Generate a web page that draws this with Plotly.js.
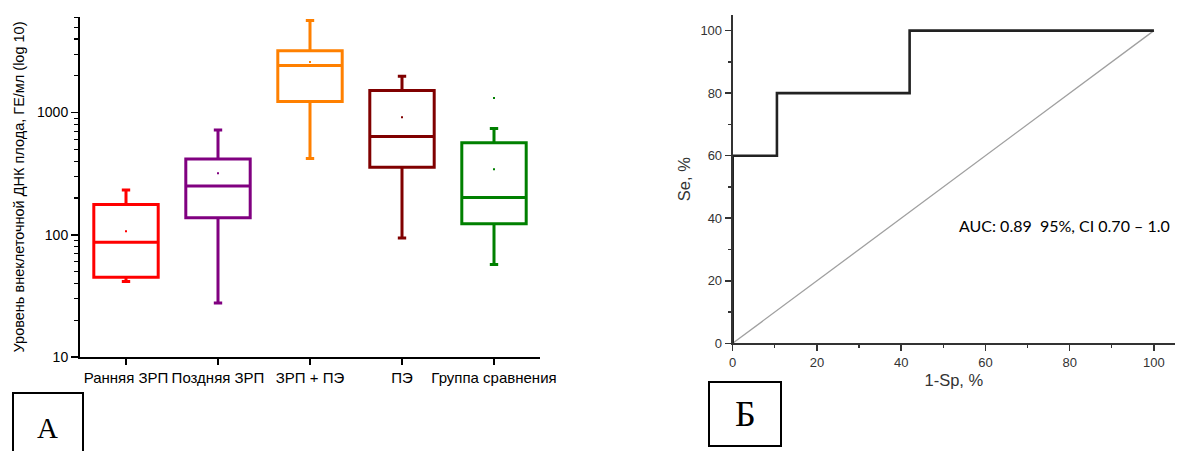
<!DOCTYPE html>
<html>
<head>
<meta charset="utf-8">
<script src="https://cdn.plot.ly/plotly-3.0.1.min.js"></script>
<style>html,body{margin:0;padding:0;background:#fff;}#chart{width:1181px;height:451px;}</style>
</head>
<body>
<div id="chart"></div>
<script>
// ---- Data: panel A (box plots, log scale) ----
const categories = ['Ранняя ЗРП', 'Поздняя ЗРП', 'ЗРП + ПЭ', 'ПЭ', 'Группа сравнения'];
const lowerWhisker = [41.5, 27.7, 420, 94, 57];
const q1Values = [45, 138, 1231, 357, 123];
const medianValues = [87, 251, 2428, 636, 202];
const q3Values = [177, 417, 3206, 1514, 567];
const upperWhisker = [232, 721, 5680, 1987, 740];
const meanValues = [107, 319, 2590, 917, 343];
const boxColors = ['#ff0000', '#800080', '#ff8000', '#800000', '#008000'];
const extraPointCategory = ['Группа сравнения'];
const extraPointValue = [1313];
const yTickVals = [10, 100, 1000];
const yTickText = ['10', '100', '1000'];

// ---- Data: panel Б (ROC curve) ----
const rocX = [0, 0, 10.5, 10.5, 42, 42, 100];
const rocY = [0, 60, 60, 80, 80, 100, 100];
const diagX = [0, 100];
const diagY = [0, 100];
const aucText = 'AUC: 0.89  95%, CI 0.70 – 1.0';

const W = 1181, H = 451;
const px = v => v / W;
const py = v => (H - v) / H;

const traces = [];
categories.forEach((c, i) => {
  traces.push({
    type: 'box', x: [c], q1: [q1Values[i]], median: [medianValues[i]], q3: [q3Values[i]],
    lowerfence: [lowerWhisker[i]], upperfence: [upperWhisker[i]],
    boxpoints: false, width: 0.7, whiskerwidth: 0.13,
    line: {color: boxColors[i], width: 3}, fillcolor: 'rgba(0,0,0,0)',
    xaxis: 'x', yaxis: 'y', showlegend: false, hoverinfo: 'skip'
  });
  traces.push({
    type: 'scatter', mode: 'markers', x: [c], y: [meanValues[i]],
    marker: {color: boxColors[i], size: 2, symbol: 'square'},
    xaxis: 'x', yaxis: 'y', showlegend: false, hoverinfo: 'skip'
  });
});
traces.push({
  type: 'scatter', mode: 'markers', x: extraPointCategory, y: extraPointValue,
  marker: {color: boxColors[4], size: 2, symbol: 'square'},
  xaxis: 'x', yaxis: 'y', showlegend: false, hoverinfo: 'skip'
});
traces.push({
  type: 'scatter', mode: 'lines', x: diagX, y: diagY,
  line: {color: '#a0a0a0', width: 1.3}, xaxis: 'x2', yaxis: 'y2', showlegend: false, hoverinfo: 'skip'
});
traces.push({
  type: 'scatter', mode: 'lines', x: rocX, y: rocY,
  line: {color: '#222222', width: 2.6, shape: 'linear'}, xaxis: 'x2', yaxis: 'y2', showlegend: false, hoverinfo: 'skip'
});

const sansFont = 'Liberation Sans, Arial, sans-serif';

const layout = {
  width: W, height: H,
  margin: {l: 0, r: 0, t: 0, b: 0},
  paper_bgcolor: '#ffffff', plot_bgcolor: '#ffffff',
  font: {family: sansFont, color: '#000'},
  boxmode: 'overlay',
  showlegend: false,
  xaxis: {
    domain: [px(80), px(540)], anchor: 'y',
    type: 'category', categoryorder: 'array', categoryarray: categories,
    range: [-0.5, 4.5], showgrid: false, zeroline: false,
    showline: true, linecolor: '#000', linewidth: 2,
    ticks: 'outside', ticklen: 6, tickwidth: 1.5, tickcolor: '#000',
    tickfont: {size: 15, color: '#000', family: sansFont}
  },
  yaxis: {
    domain: [py(357), py(17)], anchor: 'x',
    type: 'log', range: [1, 3.782], showgrid: false, zeroline: false,
    showline: true, linecolor: '#000', linewidth: 2,
    tickmode: 'array', tickvals: yTickVals, ticktext: yTickText,
    ticks: 'outside', ticklen: 7, tickwidth: 1.5, tickcolor: '#000',
    tickfont: {size: 14, color: '#000', family: sansFont},
    minor: {dtick: 'D1', ticks: 'outside', ticklen: 4, tickwidth: 1.2, tickcolor: '#000', showgrid: false},
    title: {text: 'Уровень внеклеточной ДНК плода, ГЕ/мл (log 10)', font: {size: 14.5, color: '#000', family: sansFont}, standoff: 9}
  },
  xaxis2: {
    domain: [px(732.7), px(1175)], anchor: 'y2',
    range: [0, 105], tick0: 0, dtick: 20, showgrid: false, zeroline: false,
    showline: true, linecolor: '#333', linewidth: 2,
    ticks: 'outside', ticklen: 6, tickwidth: 1.5, tickcolor: '#333',
    tickfont: {size: 13, color: '#333', family: sansFont},
    minor: {dtick: 10, ticks: 'outside', ticklen: 3, tickwidth: 1.2, tickcolor: '#333', showgrid: false},
    title: {text: '1-Sp, %', font: {size: 16.5, color: '#333', family: sansFont}, standoff: 6}
  },
  yaxis2: {
    domain: [py(343.3), py(15)], anchor: 'x2',
    range: [0, 105], tick0: 0, dtick: 20, showgrid: false, zeroline: false,
    showline: true, linecolor: '#333', linewidth: 2,
    ticks: 'outside', ticklen: 6, tickwidth: 1.5, tickcolor: '#333',
    tickfont: {size: 13, color: '#333', family: sansFont},
    minor: {dtick: 10, ticks: 'outside', ticklen: 3, tickwidth: 1.2, tickcolor: '#333', showgrid: false},
    title: {text: 'Se, %', font: {size: 16.5, color: '#333', family: sansFont}, standoff: 6}
  },
  shapes: [
    {type: 'rect', xref: 'paper', yref: 'paper', x0: px(13), x1: px(83), y0: py(393), y1: py(460), line: {color: '#000', width: 2}, fillcolor: 'rgba(0,0,0,0)'},
    {type: 'rect', xref: 'paper', yref: 'paper', x0: px(709), x1: px(781), y0: py(382), y1: py(446), line: {color: '#000', width: 2}, fillcolor: 'rgba(0,0,0,0)'}
  ],
  annotations: [
    {text: aucText, xref: 'paper', yref: 'paper', x: px(1064.5), y: py(225), xanchor: 'center', yanchor: 'middle', showarrow: false, font: {family: 'Lato, sans-serif', size: 16, color: '#000'}},
    {text: 'А', xref: 'paper', yref: 'paper', x: px(48), y: py(428), xanchor: 'center', yanchor: 'middle', showarrow: false, font: {family: 'Liberation Serif, serif', size: 29, color: '#000'}},
    {text: 'Б', xref: 'paper', yref: 'paper', x: px(745), y: py(414), xanchor: 'center', yanchor: 'middle', showarrow: false, font: {family: 'Liberation Serif, serif', size: 36, color: '#000'}}
  ]
};

Plotly.newPlot('chart', traces, layout, {displayModeBar: false, staticPlot: true});
</script>
</body>
</html>
